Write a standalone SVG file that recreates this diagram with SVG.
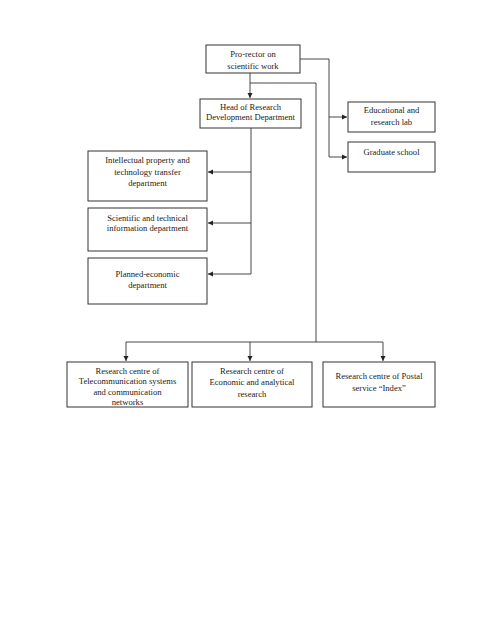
<svg xmlns="http://www.w3.org/2000/svg" width="480" height="634" viewBox="0 0 480 634">
<defs>
<marker id="ah" markerWidth="6" markerHeight="6" refX="5" refY="3" orient="auto" markerUnits="userSpaceOnUse">
<path d="M0,0.5 L5,3 L0,5.5 Z" fill="#222"/>
</marker>
<style>
.box{fill:#fff;stroke:#333;stroke-width:1}
.t{font-family:"Liberation Serif","Times New Roman",serif;font-size:8.6px;fill:#222;text-anchor:middle}
.c{fill:none;stroke:#333;stroke-width:0.9}
</style>
</defs>
<rect width="480" height="634" fill="#fff"/>
<g id="connectors">
<path class="c" d="M250,73 V98" marker-end="url(#ah)"/>
<path class="c" d="M300,59 H329 V157 H347" marker-end="url(#ah)"/>
<path class="c" d="M329,117 H347" marker-end="url(#ah)"/>
<path class="c" d="M250,83 H316 V342"/>
<path class="c" d="M251,128 V274 H208" marker-end="url(#ah)"/>
<path class="c" d="M251,172 H208" marker-end="url(#ah)"/>
<path class="c" d="M251,223 H208" marker-end="url(#ah)"/>
<path class="c" d="M126,342 H383"/>
<path class="c" d="M126,342 V361" marker-end="url(#ah)"/>
<path class="c" d="M250,342 V361" marker-end="url(#ah)"/>
<path class="c" d="M383,342 V361" marker-end="url(#ah)"/>
</g>
<g id="prorector">
<rect class="box" x="206" y="45" width="94" height="28"/>
<text class="t" x="253" y="56.5">Pro-rector on</text>
<text class="t" x="253" y="68.5">scientific work</text>
</g>
<g id="head">
<rect class="box" x="200" y="99" width="101" height="29"/>
<text class="t" x="250.5" y="109.5">Head of Research</text>
<text class="t" x="250.5" y="120">Development Department</text>
</g>
<g id="edu">
<rect class="box" x="348" y="102" width="87" height="30"/>
<text class="t" x="391.5" y="113">Educational and</text>
<text class="t" x="391.5" y="125">research lab</text>
</g>
<g id="grad">
<rect class="box" x="348" y="142" width="87" height="30"/>
<text class="t" x="391.5" y="155">Graduate school</text>
</g>
<g id="ip">
<rect class="box" x="88" y="151" width="119" height="50"/>
<text class="t" x="147.5" y="163">Intellectual property and</text>
<text class="t" x="147.5" y="174.5">technology transfer</text>
<text class="t" x="147.5" y="186">department</text>
</g>
<g id="sci">
<rect class="box" x="88" y="208" width="119" height="43"/>
<text class="t" x="147.5" y="220.5">Scientific and technical</text>
<text class="t" x="147.5" y="230.5">information department</text>
</g>
<g id="plan">
<rect class="box" x="88" y="258" width="119" height="46"/>
<text class="t" x="147.5" y="277">Planned-economic</text>
<text class="t" x="147.5" y="288">department</text>
</g>
<g id="rc1">
<rect class="box" x="67" y="362" width="121" height="45"/>
<text class="t" x="127.5" y="373.5">Research centre of</text>
<text class="t" x="127.5" y="384">Telecommunication systems</text>
<text class="t" x="127.5" y="394.5">and communication</text>
<text class="t" x="127.5" y="404.5">networks</text>
</g>
<g id="rc2">
<rect class="box" x="192" y="362" width="120" height="45"/>
<text class="t" x="252" y="374">Research centre of</text>
<text class="t" x="252" y="385">Economic and analytical</text>
<text class="t" x="252" y="397">research</text>
</g>
<g id="rc3">
<rect class="box" x="323" y="362" width="112" height="45"/>
<text class="t" x="379" y="379">Research centre of Postal</text>
<text class="t" x="379" y="390.5">service “Index”</text>
</g>
</svg>
